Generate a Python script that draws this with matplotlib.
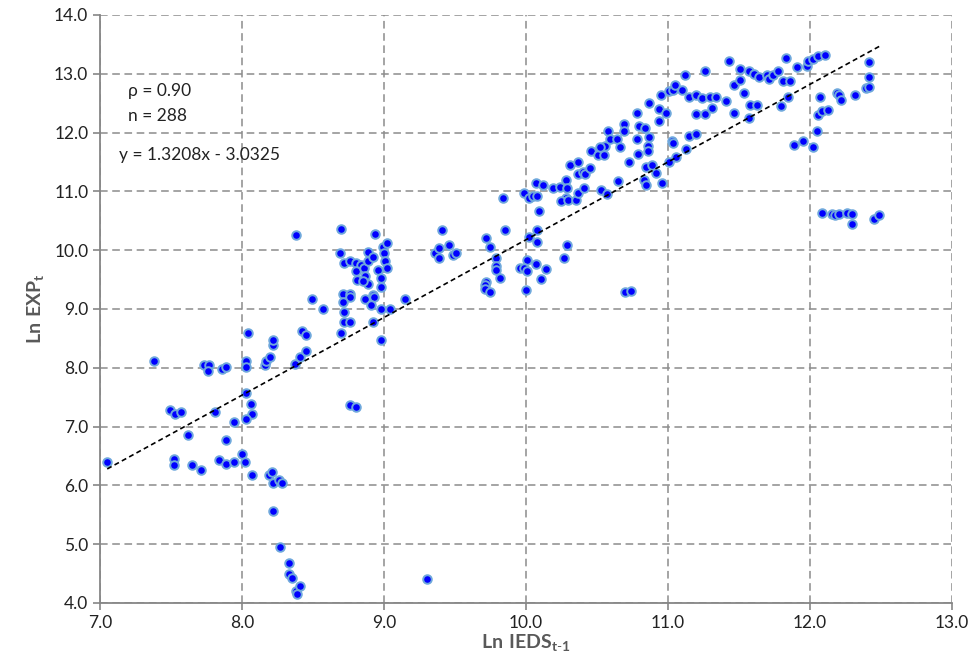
import numpy as np
import matplotlib
matplotlib.use("Agg")
import matplotlib.pyplot as plt

# données (Ln IEDS t-1, Ln EXP t)
x_low = [7.38, 7.73, 7.77, 7.76, 7.86, 7.89, 8.03, 8.03, 8.16, 8.17, 8.20, 8.22, 8.22, 8.37, 8.41, 8.45,
         8.03, 8.06, 8.07, 8.03, 7.49, 7.53, 7.57, 7.81, 7.94, 7.62, 7.89, 7.05, 7.52, 7.52, 7.65, 7.71,
         7.84, 7.89, 7.94, 8.00, 8.02, 8.07, 8.19, 8.21, 8.22, 8.26, 8.28, 8.22, 8.27, 8.33, 8.33, 8.35,
         8.38, 8.41, 8.39, 9.30, 8.76, 8.80]
y_low = [8.12, 8.04, 8.04, 7.95, 7.98, 8.01, 8.12, 8.01, 8.04, 8.12, 8.18, 8.39, 8.47, 8.06, 8.18, 8.29,
         7.57, 7.38, 7.21, 7.13, 7.29, 7.21, 7.24, 7.24, 7.07, 6.85, 6.77, 6.40, 6.45, 6.34, 6.34, 6.26,
         6.43, 6.37, 6.40, 6.54, 6.40, 6.18, 6.18, 6.23, 6.04, 6.09, 6.04, 5.56, 4.96, 4.68, 4.49, 4.43,
         4.21, 4.29, 4.15, 4.41, 7.37, 7.33]

x_mid = [8.38, 8.70, 8.94, 8.69, 8.72, 8.76, 8.80, 8.84, 8.80, 8.81, 8.86, 8.86, 8.87, 8.89, 8.89, 8.89,
         8.92, 8.99, 9.02, 9.00, 9.01, 9.02, 8.96, 8.98, 8.98, 8.85, 8.49, 8.57, 8.71, 8.76, 8.76, 8.71,
         8.72, 8.72, 8.76, 8.70, 8.87, 8.92, 8.93, 8.91, 8.98, 9.04, 8.92, 8.98, 9.15, 8.04, 8.42, 8.45,
         9.41, 9.36, 9.39, 9.39, 9.46, 9.49, 9.51, 9.72, 9.75, 9.79, 9.79, 9.79, 9.82, 9.72, 9.71, 9.71,
         9.75, 9.84, 9.85, 10.09, 10.08, 10.02, 10.08, 10.01, 9.96, 9.99, 10.01, 10.07, 10.14, 10.11,
         10.00, 10.29, 10.27, 10.70, 10.74]
y_mid = [10.25, 10.36, 10.28, 9.95, 9.78, 9.81, 9.78, 9.75, 9.64, 9.50, 9.70, 9.50, 9.56, 9.42, 9.97, 9.81,
         9.89, 10.05, 10.12, 9.95, 9.81, 9.70, 9.67, 9.53, 9.37, 9.48, 9.17, 9.00, 9.26, 9.26, 9.20, 9.11,
         8.95, 8.78, 8.78, 8.59, 9.17, 9.23, 9.20, 9.06, 9.00, 9.00, 8.78, 8.48, 9.17, 8.59, 8.62, 8.56,
         10.34, 9.95, 10.03, 9.87, 10.09, 9.92, 9.95, 10.20, 10.06, 9.87, 9.73, 9.67, 9.53, 9.45, 9.40, 9.34,
         9.28, 10.89, 10.34, 10.67, 10.34, 10.23, 10.14, 9.84, 9.70, 9.70, 9.65, 9.76, 9.68, 9.51,
         9.32, 10.09, 9.87, 9.28, 9.31]

x_high = [9.99, 10.02, 10.05, 10.08, 10.07, 10.12, 10.19, 10.24, 10.28, 10.29, 10.28, 10.25, 10.30, 10.35,
          10.37, 10.41, 10.31, 10.37, 10.37, 10.40, 10.42, 10.45, 10.46, 10.51, 10.55, 10.53, 10.57, 10.65,
          10.73, 10.56, 10.52, 10.58, 10.59, 10.64, 10.66, 10.69, 10.69, 10.78, 10.80, 10.84, 10.78, 10.87,
          10.79, 10.86, 10.86, 10.87, 10.94, 10.94, 10.95, 10.99, 10.85, 10.89, 10.92, 10.83, 10.85, 10.96,
          11.01, 11.04, 11.05, 11.12, 11.10, 11.03, 11.04, 11.06, 11.01, 11.13, 11.15, 11.20,
          11.15, 11.20, 11.24, 11.30, 11.34, 11.20, 11.26, 11.31, 11.26, 11.41, 11.47,
          11.43, 11.47, 11.51, 11.51, 11.54, 11.57, 11.61, 11.64, 11.70, 11.71, 11.74, 11.78, 11.83, 11.81,
          11.86, 11.58, 11.63, 11.57, 11.80, 11.85, 11.91, 11.98, 11.99, 12.02, 12.06,
          11.89, 11.95, 12.02, 12.05, 12.06, 12.11, 12.07, 12.09, 12.13, 12.19, 12.21, 12.22, 12.32, 12.40,
          12.42, 12.42, 12.42]
y_high = [10.97, 10.89, 10.92, 10.92, 11.14, 11.11, 11.05, 11.07, 11.19, 11.05, 10.89, 10.83, 10.86, 10.86,
          10.97, 11.05, 11.44, 11.50, 11.30, 11.33, 11.30, 11.39, 11.69, 11.61, 11.61, 11.02, 10.95, 11.17,
          11.50, 11.77, 11.76, 12.03, 11.89, 11.89, 11.75, 12.15, 12.03, 12.34, 12.11, 12.08, 11.89, 11.92,
          11.64, 11.77, 11.69, 12.50, 12.40, 12.20, 12.64, 12.34, 11.41, 11.44, 11.31, 11.19, 11.11, 11.14,
          12.70, 12.72, 12.81, 12.97, 12.72, 11.86, 11.83, 11.58, 11.50, 11.72, 11.94, 11.97,
          12.61, 12.64, 12.58, 12.61, 12.61, 12.31, 12.31, 12.42, 13.05, 12.53, 12.34,
          13.22, 12.81, 12.90, 13.08, 12.67, 13.05, 13.00, 12.94, 12.97, 12.91, 12.97, 13.05, 13.27, 12.88,
          12.88, 12.47, 12.47, 12.25, 12.45, 12.61, 13.11, 13.13, 13.22, 13.25, 13.30,
          11.78, 11.86, 11.75, 12.03, 12.29, 13.31, 12.61, 12.36, 12.39, 12.67, 12.64, 12.56, 12.64, 12.75,
          12.78, 12.94, 13.20]

# groupe isolé vers 10.6
x_out = [12.09, 12.16, 12.18, 12.21, 12.26, 12.30, 12.30, 12.45, 12.49]
y_out = [10.64, 10.62, 10.59, 10.62, 10.64, 10.62, 10.45, 10.53, 10.59]

x = np.array(x_low + x_mid + x_high + x_out)
y = np.array(y_low + y_mid + y_high + y_out)

slope = 1.3208
intercept = -3.0325
rho_txt = "\u03c1 = 0.90"
n_txt = "n = 288"
eq_txt = "y = 1.3208x - 3.0325"

plt.rcParams['font.family'] = ['Lato', 'DejaVu Sans']
plt.rcParams['mathtext.fontset'] = 'custom'
plt.rcParams['mathtext.rm'] = 'Lato'
plt.rcParams['mathtext.bf'] = 'Lato:bold'

fig = plt.figure(figsize=(9.72, 6.69), dpi=100)
ax = fig.add_axes([0.103, 0.0987, 0.876, 0.879])

ax.scatter(x, y, s=38, c='#0000FF', edgecolors='#6FA8DC', linewidths=1.4, zorder=3)

# droite de tendance
xl = np.array([7.05, 12.5])
ax.plot(xl, slope * xl + intercept, color='black', linestyle=(0, (3, 2)), linewidth=1.2, zorder=4)

ax.set_xlim(7.0, 13.0)
ax.set_ylim(4.0, 14.0)
ax.set_xticks(np.arange(7.0, 13.01, 1.0))
ax.set_yticks(np.arange(4.0, 14.01, 1.0))
ax.xaxis.set_major_formatter(matplotlib.ticker.FormatStrFormatter('%.1f'))
ax.yaxis.set_major_formatter(matplotlib.ticker.FormatStrFormatter('%.1f'))

ax.grid(True, color='#8C8C8C', linestyle=(0, (5, 3)), linewidth=1.1, zorder=0)
ax.set_axisbelow(True)
for s in ['top', 'right']:
    ax.spines[s].set_visible(False)
for s in ['left', 'bottom']:
    ax.spines[s].set_color('#868686')
    ax.spines[s].set_linewidth(1.3)
ax.tick_params(axis='both', colors='#868686', labelcolor='#222222', labelsize=12.5, length=5, width=1.2)

ax.set_xlabel(r'$\mathbf{Ln\ IEDS_{t\text{-}1}}$', fontsize=14, color='#595959', labelpad=1)
ax.set_ylabel(r'$\mathbf{Ln\ EXP_t}$', fontsize=14, color='#595959', labelpad=6)

ax.text(7.2, 12.70, rho_txt, fontsize=12.5, color='#222222', va='center')
ax.text(7.2, 12.28, n_txt, fontsize=12.5, color='#222222', va='center')
ax.text(7.13, 11.62, eq_txt, fontsize=12.5, color='#222222', va='center')

plt.savefig('out.png', dpi=100)
